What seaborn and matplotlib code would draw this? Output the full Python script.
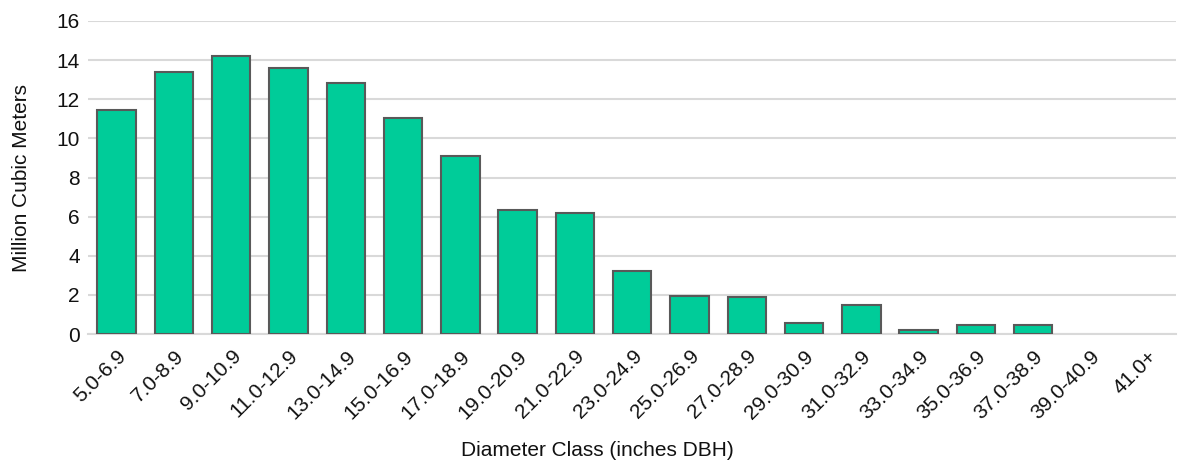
import matplotlib
matplotlib.use("Agg")
import matplotlib.pyplot as plt
import seaborn as sns
import pandas as pd

classes = ["5.0-6.9", "7.0-8.9", "9.0-10.9", "11.0-12.9", "13.0-14.9", "15.0-16.9",
           "17.0-18.9", "19.0-20.9", "21.0-22.9", "23.0-24.9", "25.0-26.9", "27.0-28.9",
           "29.0-30.9", "31.0-32.9", "33.0-34.9", "35.0-36.9", "37.0-38.9", "39.0-40.9",
           "41.0+"]
volume = [11.45, 13.41, 14.21, 13.6, 12.83, 11.04, 9.1, 6.34, 6.2, 3.24, 1.93, 1.91,
          0.56, 1.5, 0.22, 0.48, 0.48, 0.0, 0.0]
y_ticks = [0, 2, 4, 6, 8, 10, 12, 14, 16]

sns.set_theme(style="white")
plt.rcParams["font.family"] = ["Liberation Sans", "DejaVu Sans"]

df = pd.DataFrame({"cls": classes, "vol": volume})

fig = plt.figure(figsize=(11.83, 4.66), dpi=100)
ax = fig.add_axes([0.0744, 0.283, 0.920, 0.672])

sns.barplot(data=df, x="cls", y="vol", color="#00CC99", saturation=1,
            edgecolor="#595959", linewidth=1.5, width=0.67, ax=ax, zorder=3)

# empty classes get no outline
for patch, v in zip(ax.patches, volume):
    if v == 0:
        patch.set_linewidth(0)

ax.set_ylim(0, 16)
ax.set_yticks(y_ticks)
ax.set_yticklabels([str(t) for t in y_ticks], fontsize=15, color="#111111")
ax.yaxis.grid(True, color="#D9D9D9", linewidth=1.5, zorder=0)
ax.set_axisbelow(True)
for s in ["top", "right", "left"]:
    ax.spines[s].set_visible(False)
ax.spines["bottom"].set_color("#D9D9D9")
ax.spines["bottom"].set_linewidth(1.5)
ax.tick_params(axis="both", length=0, pad=6)
ax.set_xlim(-0.5, len(classes) - 0.5)

ax.set_xticks(range(len(classes)))
ax.set_xticklabels(classes, rotation=45, ha="right", rotation_mode="anchor",
                   fontsize=15, color="#111111")
ax.tick_params(axis="x", pad=9)

ax.set_xlabel("")
ax.set_ylabel("Million Cubic Meters", fontsize=15, color="#111111", labelpad=18)
fig.text(597 / 1183, 1 - 450 / 466, "Diameter Class (inches DBH)", fontsize=15,
         color="#111111", ha="center", va="center")

fig.savefig("out.png", dpi=100)
